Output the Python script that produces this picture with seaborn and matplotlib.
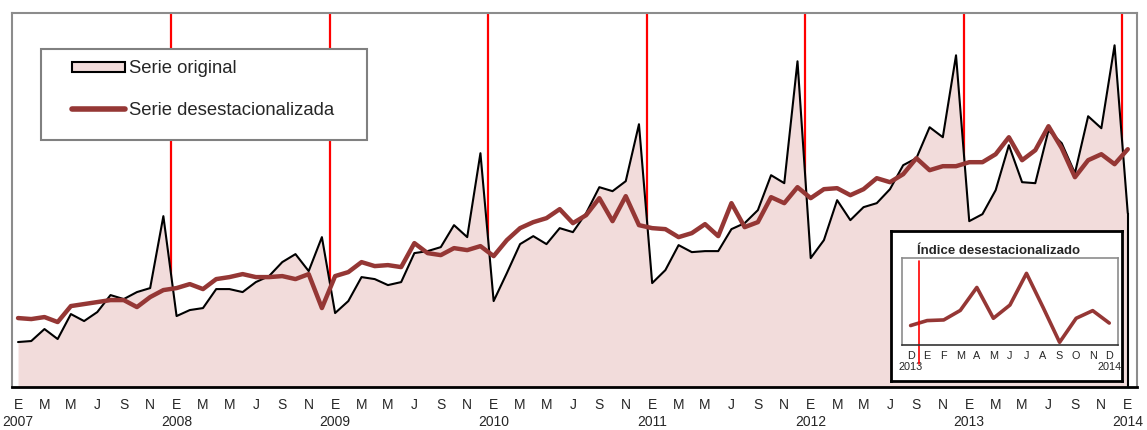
import matplotlib
matplotlib.use("Agg")
import matplotlib.pyplot as plt
import numpy as np
import pandas as pd
import seaborn as sns
from matplotlib.patches import Patch, Rectangle
from matplotlib.lines import Line2D

# Datos (alturas, ene-2007 a ene-2014)
letras_mes = ['E', 'F', 'M', 'A', 'M', 'J', 'J', 'A', 'S', 'O', 'N', 'D']
fechas = pd.date_range('2007-01-01', '2014-01-01', freq='MS')

serie_original = [45, 46, 58, 48, 73, 66, 75, 92, 88, 95, 99, 171,
                  71, 77, 79, 98, 98, 95, 105, 111, 125, 133, 116, 150,
                  74, 86, 110, 108, 102, 105, 134, 136, 140, 162, 150, 234,
                  86, 114, 143, 151, 143, 159, 155, 174, 200, 196, 206, 263,
                  104, 117, 142, 135, 136, 136, 158, 164, 177, 212, 204, 326,
                  129, 147, 187, 167, 180, 184, 198, 222, 229, 260, 250, 332,
                  166, 173, 197, 242, 205, 204, 257, 244, 214, 271, 259, 342,
                  174]
serie_desest = [69, 68, 70, 65, 81, 83, 85, 87, 87, 80, 90, 97,
                99, 103, 98, 108, 110, 113, 110, 110, 111, 108, 113, 79,
                111, 115, 125, 121, 122, 120, 144, 134, 132, 139, 137, 141,
                131, 147, 159, 165, 169, 178, 164, 172, 189, 166, 191, 162,
                159, 158, 150, 154, 163, 151, 184, 160, 165, 190, 184, 200,
                189, 198, 199, 192, 198, 209, 205, 213, 229, 217, 221, 221,
                225, 225, 233, 250, 227, 237, 261, 239, 210, 227, 233, 223,
                238]

# Recuadro: indice desestacionalizado dic-2013 a dic-2014
inset_meses = ['D', 'E', 'F', 'M', 'A', 'M', 'J', 'J', 'A', 'S', 'O', 'N', 'D']
inset_anios = ['2013', '', '', '', '', '', '', '', '', '', '', '', '2014']
indice_desest = [0.94, 1.18, 1.21, 1.67, 2.78, 1.29, 1.93, 3.46, 1.82, 0.13, 1.29, 1.66, 1.06]

df = pd.DataFrame({'t': np.arange(len(fechas)), 'original': serie_original,
                   'desest': serie_desest})
df_in = pd.DataFrame({'t': np.arange(len(inset_meses)), 'indice': indice_desest})

sns.set_style('white')
plt.rcParams['font.family'] = ['Liberation Sans', 'DejaVu Sans']

rosa = '#F2DCDB'
granate = '#953735'

fig = plt.figure(figsize=(11.47, 4.30), dpi=100)
ax = fig.add_axes([0.0102, 0.1, 0.9811, 0.869])

# lineas rojas de cambio de anio
for t, d in zip(df['t'], fechas):
    if d.month == 1 and d.year > 2007:
        ax.axvline(t - 0.4, color='#FF0000', lw=1.6, zorder=1)

ax.fill_between(df['t'], 0, df['original'], color=rosa, lw=0, zorder=2)
sns.lineplot(data=df, x='t', y='original', color='black', lw=1.5, ax=ax, zorder=3)
ax.vlines(df['t'].iloc[-1], 0, df['original'].iloc[-1], color='black', lw=1.5, zorder=3)
sns.lineplot(data=df, x='t', y='desest', color=granate, lw=3.2, ax=ax, zorder=4)

ax.set_xlim(-0.48, 84.7)
ax.set_ylim(0, 374)
ax.set_xlabel('')
ax.set_ylabel('')
ax.set_yticks([])

labels = []
for d in fechas[::2]:
    lab = letras_mes[d.month - 1]
    if d.month == 1:
        lab += '\n' + str(d.year)
    labels.append(lab)
ax.set_xticks(df['t'][::2], labels, fontsize=10, linespacing=1.25)
ax.tick_params(axis='x', which='major', length=0, pad=8)
julios = [t - 0.4 for t, d in zip(df['t'], fechas) if d.month == 7]
ax.set_xticks(julios, minor=True)
ax.tick_params(axis='x', which='minor', direction='in', length=4, width=1, color='black')

for s in ['left', 'top', 'right']:
    ax.spines[s].set_color('#8C8C8C')
    ax.spines[s].set_linewidth(1.5)
ax.spines['bottom'].set_color('black')
ax.spines['bottom'].set_linewidth(2)

# leyenda
ax.add_patch(Rectangle((0.026, 0.661), 0.2897, 0.2435, transform=ax.transAxes,
                       facecolor='white', edgecolor='#808080', lw=1.5, zorder=5))
handles = [Patch(facecolor=rosa, edgecolor='black', lw=1.5),
           Line2D([], [], color=granate, lw=4)]
leg = ax.legend(handles, ['Serie original', 'Serie desestacionalizada'],
                loc='upper left', bbox_to_anchor=(0.0536, 0.874), frameon=False,
                borderpad=0, borderaxespad=0, fontsize=13.3, handlelength=2.85,
                handleheight=0.5, handletextpad=0.25, labelspacing=1.35)
leg.set_zorder(6)

# recuadro
ax_box = fig.add_axes([0.7766, 0.114, 0.2017, 0.3477])
ax_box.set_facecolor('white')
ax_box.set_xticks([])
ax_box.set_yticks([])
for s in ax_box.spines.values():
    s.set_color('black')
    s.set_linewidth(2)

ax_in = fig.add_axes([0.7867, 0.1977, 0.1876, 0.2012])
ax_in.set_facecolor('white')
sns.lineplot(data=df_in, x='t', y='indice', color=granate, lw=2.6, ax=ax_in)
ax_in.axvline(0.5, ymin=-0.22, ymax=0.97, color='#FF0000', lw=1.2, clip_on=False)
ax_in.set_xlim(-0.5, 12.5)
ax_in.set_ylim(0, 4.18)
ax_in.set_xlabel('')
ax_in.set_ylabel('')
in_labels = [m + '\n' + a if a else m for m, a in zip(inset_meses, inset_anios)]
ax_in.set_xticks(df_in['t'], in_labels, fontsize=7.8, linespacing=1.2)
ax_in.tick_params(axis='x', which='major', length=0, pad=4)
ax_in.set_xticks(np.arange(-0.5, 13, 1), minor=True)
ax_in.tick_params(axis='x', which='minor', direction='out', length=3, width=0.8, color='black')
ax_in.set_yticks([1, 2, 3], [])
ax_in.tick_params(axis='y', direction='out', length=2, width=0.8, color='#8C8C8C')
for s in ['left', 'top', 'right']:
    ax_in.spines[s].set_color('#8C8C8C')
    ax_in.spines[s].set_linewidth(1.2)
ax_in.spines['bottom'].set_color('#333333')
ax_in.spines['bottom'].set_linewidth(1.2)
ax_in.text(0.068, 1.09, 'Índice desestacionalizado', transform=ax_in.transAxes,
           fontsize=9.5, fontweight='bold', va='center', ha='left')

fig.savefig('out.png', dpi=100)
